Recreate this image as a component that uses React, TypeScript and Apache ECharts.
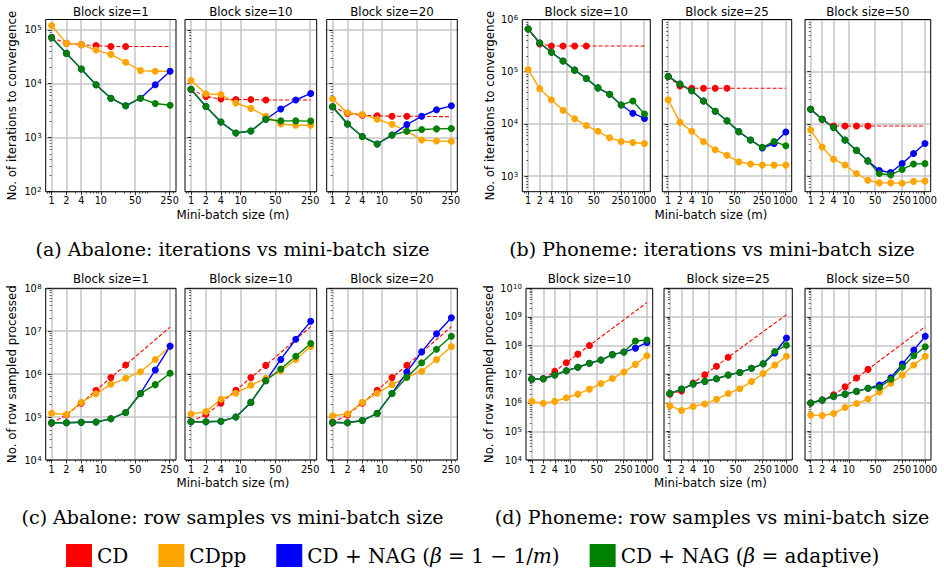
import React, { useEffect, useRef } from "react";
import * as echarts from "echarts";

// ---------- data ----------
const mAbalone = [1, 2, 4, 8, 16, 32, 64, 128, 256];
const mPhoneme = [1, 2, 4, 8, 16, 32, 64, 128, 256, 512, 1024];
const xTickAbalone = [1, 2, 4, 10, 50, 250];
const xTickPhoneme = [1, 2, 4, 10, 50, 250, 1000];
const yTickAbIter = [2, 3, 4, 5];
const yTickPhIter = [3, 4, 5, 6];
const yTickAbRows = [4, 5, 6, 7, 8];
const yTickPhRows = [4, 5, 6, 7, 8, 9, 10];
const abaloneBlocks = [1, 10, 20];
const phonemeBlocks = [10, 25, 50];

const SERIES_NAMES = ["CD", "CDpp", "CD + NAG (β = 1 − 1/m)", "CD + NAG (β = adaptive)"];
const SERIES_COLORS = ["#ff0000", "#ffa500", "#0000ff", "#008000"];
const captions = [
  "(a) Abalone: iterations vs mini-batch size",
  "(b) Phoneme: iterations vs mini-batch size",
  "(c) Abalone: row samples vs mini-batch size",
  "(d) Phoneme: row samples vs mini-batch size",
];
const yLabelIter = "No. of iterations to convergence";
const yLabelRows = "No. of row sampled processed";
const xLabel = "Mini-batch size (m)";

// Abalone, iterations to convergence
const abIterCd1 = [7.2e4, 5.6e4, 5.3e4, 5.1e4, 4.9e4, 4.9e4];
const abIterCdEnd1 = 4.9e4;
const abIterPp1 = [1.2e5, 5.6e4, 5.3e4, 4.2e4, 3.5e4, 2.5e4, 1.75e4, 1.7e4, 1.7e4];
const abIterNag1 = [7.2e4, 3.65e4, 1.87e4, 9.6e3, 5.4e3, 3.9e3, 5.4e3, 9.6e3, 1.7e4];
const abIterAda1 = [7.2e4, 3.65e4, 1.87e4, 9.6e3, 5.4e3, 3.9e3, 5.4e3, 4.3e3, 4.0e3];

const abIterCd10 = [7.9e3, 5.8e3, 5.2e3, 5.1e3, 5.1e3, 5.0e3];
const abIterCdEnd10 = 5.0e3;
const abIterPp10 = [1.15e4, 6.5e3, 6.3e3, 4.4e3, 3.5e3, 2.5e3, 1.8e3, 1.7e3, 1.7e3];
const abIterNag10 = [7.9e3, 3.8e3, 1.95e3, 1.22e3, 1.33e3, 2.2e3, 3.4e3, 5.0e3, 6.6e3];
const abIterAda10 = [7.9e3, 3.8e3, 1.95e3, 1.22e3, 1.33e3, 2.2e3, 2.05e3, 2.05e3, 2.03e3];

const abIterCd20 = [3.75e3, 2.8e3, 2.6e3, 2.55e3, 2.5e3, 2.5e3];
const abIterCdEnd20 = 2.45e3;
const abIterPp20 = [5.2e3, 2.9e3, 2.7e3, 2.2e3, 1.77e3, 1.32e3, 910, 870, 860];
const abIterNag20 = [3.75e3, 1.8e3, 1.05e3, 765, 1.12e3, 1.75e3, 2.5e3, 3.3e3, 3.9e3];
const abIterAda20 = [3.75e3, 1.8e3, 1.05e3, 765, 1.12e3, 1.32e3, 1.42e3, 1.46e3, 1.48e3];

// Phoneme, iterations to convergence
const phIterCd10 = [6.6e5, 3.4e5, 3.1e5, 3.1e5, 3.1e5, 3.1e5];
const phIterCdEnd10 = 3.1e5;
const phIterPp10 = [1.1e5, 4.7e4, 2.9e4, 1.83e4, 1.25e4, 9.3e3, 7.2e3, 5.4e3, 4.6e3, 4.4e3, 4.2e3];
const phIterNag10 = [6.6e5, 3.55e5, 2.35e5, 1.6e5, 1.07e5, 7.4e4, 4.9e4, 3.7e4, 2.3e4, 1.6e4, 1.27e4];
const phIterAda10 = [6.6e5, 3.55e5, 2.35e5, 1.6e5, 1.07e5, 7.4e4, 4.9e4, 3.7e4, 2.3e4, 2.75e4, 1.55e4];

const phIterCd25 = [8.1e4, 5.3e4, 4.8e4, 4.8e4, 4.8e4, 4.8e4];
const phIterCdEnd25 = 4.8e4;
const phIterPp25 = [2.9e4, 1.07e4, 7.2e3, 4.6e3, 3.2e3, 2.5e3, 1.87e3, 1.7e3, 1.62e3, 1.62e3, 1.62e3];
const phIterNag25 = [8.1e4, 5.8e4, 4.3e4, 2.75e4, 1.75e4, 1.15e4, 7.1e3, 4.9e3, 3.45e3, 4.2e3, 7.0e3];
const phIterAda25 = [8.1e4, 5.8e4, 4.3e4, 2.75e4, 1.75e4, 1.15e4, 7.1e3, 4.9e3, 3.55e3, 4.6e3, 3.8e3];

const phIterCd50 = [1.9e4, 1.23e4, 9.1e3, 9.1e3, 9.1e3, 9.1e3];
const phIterCdEnd50 = 9.1e3;
const phIterPp50 = [7.6e3, 3.6e3, 2.1e3, 1.63e3, 1.12e3, 830, 740, 740, 725, 790, 800];
const phIterNag50 = [1.9e4, 1.23e4, 8.5e3, 4.9e3, 3.1e3, 1.95e3, 1.28e3, 1.17e3, 1.73e3, 2.7e3, 4.2e3];
const phIterAda50 = [1.9e4, 1.23e4, 8.5e3, 4.9e3, 3.1e3, 1.95e3, 1.12e3, 1.05e3, 1.34e3, 1.7e3, 1.73e3];

// Abalone, row samples processed
const abRowsCd1 = [7.3e4, 1.12e5, 2.1e5, 4.2e5, 8.3e5, 1.63e6];
const abRowsCdEnd1 = 1.25e7;
const abRowsPp1 = [1.23e5, 1.15e5, 2.2e5, 3.5e5, 5.8e5, 8.0e5, 1.14e6, 2.2e6, 4.4e6];
const abRowsNag1 = [7.4e4, 7.4e4, 7.6e4, 7.7e4, 9.1e4, 1.28e5, 3.55e5, 1.25e6, 4.5e6];
const abRowsAda1 = [7.4e4, 7.4e4, 7.6e4, 7.7e4, 9.1e4, 1.28e5, 3.55e5, 5.7e5, 1.05e6];

const abRowsCd10 = [7.8e4, 1.16e5, 2.1e5, 4.2e5, 8.3e5, 1.6e6];
const abRowsCdEnd10 = 1.28e7;
const abRowsPp10 = [1.18e5, 1.34e5, 2.6e5, 3.6e5, 5.5e5, 8.0e5, 1.2e6, 2.2e6, 4.4e6];
const abRowsNag10 = [7.8e4, 7.8e4, 8.0e4, 1.0e5, 2.2e5, 7.0e5, 2.2e6, 6.5e6, 1.7e7];
const abRowsAda10 = [7.8e4, 7.8e4, 8.0e4, 1.0e5, 2.2e5, 7.0e5, 1.32e6, 2.6e6, 5.2e6];

const abRowsCd20 = [7.5e4, 1.12e5, 2.1e5, 4.2e5, 8.3e5, 1.6e6];
const abRowsCdEnd20 = 1.28e7;
const abRowsPp20 = [1.07e5, 1.18e5, 2.2e5, 3.6e5, 5.7e5, 8.5e5, 1.17e6, 2.2e6, 4.4e6];
const abRowsNag20 = [7.5e4, 7.4e4, 8.3e4, 1.22e5, 3.55e5, 1.12e6, 3.3e6, 8.7e6, 2.05e7];
const abRowsAda20 = [7.5e4, 7.4e4, 8.3e4, 1.22e5, 3.55e5, 8.5e5, 1.85e6, 3.8e6, 7.6e6];

// Phoneme, row samples processed
const phRowsCd10 = [6.6e6, 6.9e6, 1.25e7, 2.5e7, 5.0e7, 1.0e8];
const phRowsCdEnd10 = 3.16e9;
const phRowsPp10 = [1.12e6, 9.6e5, 1.12e6, 1.5e6, 2.0e6, 3.0e6, 4.7e6, 7.0e6, 1.18e7, 2.2e7, 4.4e7];
const phRowsNag10 = [6.7e6, 6.9e6, 9.3e6, 1.32e7, 1.73e7, 2.4e7, 3.1e7, 4.8e7, 5.9e7, 8.1e7, 1.28e8];
const phRowsAda10 = [6.7e6, 6.9e6, 9.3e6, 1.32e7, 1.73e7, 2.4e7, 3.1e7, 4.8e7, 5.9e7, 1.44e8, 1.56e8];

const phRowsCd25 = [2.0e6, 2.6e6, 4.9e6, 9.5e6, 1.9e7, 3.9e7];
const phRowsCdEnd25 = 1.2e9;
const phRowsPp25 = [7.8e5, 5.4e5, 7.4e5, 9.1e5, 1.32e6, 2.1e6, 3.1e6, 5.5e6, 1.05e7, 2.1e7, 4.2e7];
const phRowsNag25 = [2.1e6, 3.0e6, 4.5e6, 5.6e6, 6.9e6, 9.3e6, 1.15e7, 1.6e7, 2.3e7, 5.5e7, 1.83e8];
const phRowsAda25 = [2.1e6, 3.0e6, 4.5e6, 5.6e6, 6.9e6, 9.3e6, 1.15e7, 1.6e7, 2.3e7, 6.2e7, 1.02e8];

const phRowsCd50 = [9.8e5, 1.25e6, 1.9e6, 3.6e6, 7.3e6, 1.47e7];
const phRowsCdEnd50 = 4.6e8;
const phRowsPp50 = [3.7e5, 3.6e5, 4.2e5, 6.8e5, 9.4e5, 1.35e6, 2.4e6, 4.8e6, 9.3e6, 2.1e7, 4.2e7];
const phRowsNag50 = [9.8e5, 1.25e6, 1.67e6, 2.0e6, 2.5e6, 3.2e6, 4.2e6, 7.5e6, 2.25e7, 6.9e7, 2.1e8];
const phRowsAda50 = [9.8e5, 1.25e6, 1.67e6, 2.0e6, 2.5e6, 3.2e6, 3.5e6, 6.6e6, 1.78e7, 4.4e7, 9.1e7];

// ---------- panel wiring ----------
type PanelData = {
  m: number[];
  xTicks: number[];
  yTicks: number[];
  cd: number[];
  cdEnd: number;
  cdpp: number[];
  nag: number[];
  ada: number[];
  block: number;
};

const panelData: PanelData[][] = [
  [
    { m: mAbalone, xTicks: xTickAbalone, yTicks: yTickAbIter, cd: abIterCd1, cdEnd: abIterCdEnd1, cdpp: abIterPp1, nag: abIterNag1, ada: abIterAda1, block: abaloneBlocks[0] },
    { m: mAbalone, xTicks: xTickAbalone, yTicks: yTickAbIter, cd: abIterCd10, cdEnd: abIterCdEnd10, cdpp: abIterPp10, nag: abIterNag10, ada: abIterAda10, block: abaloneBlocks[1] },
    { m: mAbalone, xTicks: xTickAbalone, yTicks: yTickAbIter, cd: abIterCd20, cdEnd: abIterCdEnd20, cdpp: abIterPp20, nag: abIterNag20, ada: abIterAda20, block: abaloneBlocks[2] },
    { m: mPhoneme, xTicks: xTickPhoneme, yTicks: yTickPhIter, cd: phIterCd10, cdEnd: phIterCdEnd10, cdpp: phIterPp10, nag: phIterNag10, ada: phIterAda10, block: phonemeBlocks[0] },
    { m: mPhoneme, xTicks: xTickPhoneme, yTicks: yTickPhIter, cd: phIterCd25, cdEnd: phIterCdEnd25, cdpp: phIterPp25, nag: phIterNag25, ada: phIterAda25, block: phonemeBlocks[1] },
    { m: mPhoneme, xTicks: xTickPhoneme, yTicks: yTickPhIter, cd: phIterCd50, cdEnd: phIterCdEnd50, cdpp: phIterPp50, nag: phIterNag50, ada: phIterAda50, block: phonemeBlocks[2] },
  ],
  [
    { m: mAbalone, xTicks: xTickAbalone, yTicks: yTickAbRows, cd: abRowsCd1, cdEnd: abRowsCdEnd1, cdpp: abRowsPp1, nag: abRowsNag1, ada: abRowsAda1, block: abaloneBlocks[0] },
    { m: mAbalone, xTicks: xTickAbalone, yTicks: yTickAbRows, cd: abRowsCd10, cdEnd: abRowsCdEnd10, cdpp: abRowsPp10, nag: abRowsNag10, ada: abRowsAda10, block: abaloneBlocks[1] },
    { m: mAbalone, xTicks: xTickAbalone, yTicks: yTickAbRows, cd: abRowsCd20, cdEnd: abRowsCdEnd20, cdpp: abRowsPp20, nag: abRowsNag20, ada: abRowsAda20, block: abaloneBlocks[2] },
    { m: mPhoneme, xTicks: xTickPhoneme, yTicks: yTickPhRows, cd: phRowsCd10, cdEnd: phRowsCdEnd10, cdpp: phRowsPp10, nag: phRowsNag10, ada: phRowsAda10, block: phonemeBlocks[0] },
    { m: mPhoneme, xTicks: xTickPhoneme, yTicks: yTickPhRows, cd: phRowsCd25, cdEnd: phRowsCdEnd25, cdpp: phRowsPp25, nag: phRowsNag25, ada: phRowsAda25, block: phonemeBlocks[1] },
    { m: mPhoneme, xTicks: xTickPhoneme, yTicks: yTickPhRows, cd: phRowsCd50, cdEnd: phRowsCdEnd50, cdpp: phRowsPp50, nag: phRowsNag50, ada: phRowsAda50, block: phonemeBlocks[2] },
  ],
];

// ---------- layout (pixels) ----------
const ROW_TOP = [19.5, 288.3];
const ROW_HEIGHT = [172.2, 171.7];
const BOXES = [
  [[45.7, 130.3], [185, 131.7], [326.7, 130.6], [522.3, 128], [662.3, 129.4], [805, 125.7]],
  [[45.7, 130.3], [185, 131.7], [326.7, 130.6], [526, 126.7], [664, 128.3], [805, 126]],
];
// y ranges (log10 units) per row, per dataset group (abalone, phoneme)
const Y_RANGE = [
  [[2, 5.19], [2.7, 6]],
  [[4, 8], [4, 10]],
];
const TITLE_Y = [11.7, 279.3];
const YLABEL_POS = [[[11.8, 105.6], [490, 105.6]], [[11.8, 374.2], [488.5, 374.2]]];
const XLABEL_POS = [[[233, 215], [711, 215]], [[233, 483], [710.5, 483]]];
const CAPTION_POS = [[232.5, 249], [712, 249], [232.5, 517], [712, 517]];

const log = Math.log10;

function minorLogs(lo: number, hi: number, exclude: number[]) {
  const out: number[] = [];
  for (let e = -1; e <= 10; e++) {
    for (let k = 2; k <= 9; k++) {
      const v = k * Math.pow(10, e);
      const l = log(v);
      if (l > lo + 1e-6 && l < hi - 1e-6 && !exclude.some((x) => Math.abs(x - v) / v < 1e-9)) out.push(l);
    }
  }
  return out;
}

function buildOption() {
  const grid: any[] = [];
  const xAxis: any[] = [];
  const yAxis: any[] = [];
  const series: any[] = [];
  const graphic: any[] = [];
  const FONT = "DejaVu Sans";
  const tickFont = 9.7;
  const labelFont = 11.8;

  for (let r = 0; r < 2; r++) {
    for (let c = 0; c < 6; c++) {
      const p = panelData[r][c];
      const g = grid.length;
      const [left, width] = BOXES[r][c];
      const top = ROW_TOP[r];
      const height = ROW_HEIGHT[r];
      grid.push({
        left, top, width, height,
        show: true, borderColor: "#000", borderWidth: 1, backgroundColor: "transparent",
        containLabel: false, outerBoundsMode: "none", z: 1,
      });
      const maxM = p.m[p.m.length - 1];
      const span = log(maxM);
      const xmin = -0.05 * span;
      const xmax = span * 1.05;
      const [ymin, ymax] = Y_RANGE[r][c < 3 ? 0 : 1];
      const xMajor = p.xTicks.map(log);
      const xMinor = minorLogs(xmin, xmax, p.xTicks);
      const yMinor = minorLogs(ymin, ymax, []).filter((v) => Math.abs(v - Math.round(v)) > 1e-6);
      const showYLabels = c === 0 || c === 3;

      xAxis.push({
        type: "value", gridIndex: g, position: "bottom", min: xmin, max: xmax,
        axisLine: { show: false },
        axisTick: { show: true, length: 3.5, customValues: xMajor, lineStyle: { color: "#000", width: 0.8 } },
        axisLabel: {
          show: true, customValues: xMajor, margin: 4,
          formatter: (v: number) => String(Math.round(Math.pow(10, v))),
          fontSize: tickFont, fontFamily: FONT, color: "#000",
        },
        splitLine: { show: true, lineStyle: { color: "#c6c6c6", width: 1.5 } },
      });
      xAxis.push({
        type: "value", gridIndex: g, position: "bottom", min: xmin, max: xmax,
        axisLine: { show: false },
        axisTick: { show: true, length: 2, customValues: xMinor, lineStyle: { color: "#000", width: 0.6 } },
        axisLabel: { show: false },
        splitLine: { show: false },
      });
      yAxis.push({
        type: "value", gridIndex: g, position: "left", min: ymin, max: ymax,
        axisLine: { show: false },
        axisTick: { show: true, length: 3.5, customValues: p.yTicks, lineStyle: { color: "#000", width: 0.8 } },
        axisLabel: {
          show: showYLabels, customValues: p.yTicks, margin: 4,
          formatter: (v: number) => "10{s|" + Math.round(v) + "}",
          fontSize: tickFont, fontFamily: FONT, color: "#000",
          rich: { s: { fontSize: 7, fontFamily: FONT, color: "#000", verticalAlign: "top", padding: [0, 0, 0, 0.5] } },
        },
        splitLine: { show: true, lineStyle: { color: "#c6c6c6", width: 1.5 } },
      });
      yAxis.push({
        type: "value", gridIndex: g, position: "left", min: ymin, max: ymax,
        axisLine: { show: false },
        axisTick: { show: true, length: 2, customValues: yMinor, lineStyle: { color: "#000", width: 0.6 } },
        axisLabel: { show: false },
        splitLine: { show: false },
      });

      const xi = 2 * g;
      const yi = 2 * g;
      const base = {
        type: "line", xAxisIndex: xi, yAxisIndex: yi, symbol: "circle", symbolSize: 7,
        silent: true, emphasis: { disabled: true }, z: 2,
      };
      const cdData: any[] = p.cd.map((v, i) => [log(p.m[i]), log(v)]);
      cdData.push({ value: [log(maxM), log(p.cdEnd)], symbol: "none" });
      const lists = [cdData, p.cdpp, p.nag, p.ada];
      lists.forEach((vals: any, s) => {
        const data = s === 0 ? vals : (vals as number[]).map((v, i) => [log(p.m[i]), log(v)]);
        series.push({
          ...base,
          name: SERIES_NAMES[s],
          data,
          itemStyle: { color: SERIES_COLORS[s], borderWidth: 0 },
          lineStyle: { color: SERIES_COLORS[s], width: s === 0 ? 1.1 : 1.4, type: s === 0 ? [4, 2] : "solid" },
        });
      });

      graphic.push({
        type: "text", x: left + width / 2, y: TITLE_Y[r], silent: true,
        style: { text: "Block size=" + p.block, fontSize: labelFont, fontFamily: FONT, fill: "#000", align: "center", verticalAlign: "middle" },
      });
    }
    for (let h = 0; h < 2; h++) {
      graphic.push({
        type: "text", x: YLABEL_POS[r][h][0], y: YLABEL_POS[r][h][1], rotation: Math.PI / 2, silent: true,
        style: { text: r === 0 ? yLabelIter : yLabelRows, fontSize: labelFont, fontFamily: FONT, fill: "#000", align: "center", verticalAlign: "middle" },
      });
      graphic.push({
        type: "text", x: XLABEL_POS[r][h][0], y: XLABEL_POS[r][h][1], silent: true,
        style: { text: xLabel, fontSize: labelFont, fontFamily: FONT, fill: "#000", align: "center", verticalAlign: "middle" },
      });
    }
  }
  captions.forEach((t, i) => {
    graphic.push({
      type: "text", x: CAPTION_POS[i][0], y: CAPTION_POS[i][1], silent: true,
      style: { text: t, fontSize: 19, fontFamily: "DejaVu Serif", fill: "#000", align: "center", verticalAlign: "middle" },
    });
  });

  return {
    animation: false,
    backgroundColor: "#fff",
    textStyle: { fontFamily: FONT },
    grid, xAxis, yAxis, series, graphic,
    legend: {
      data: SERIES_NAMES,
      left: 66, top: 544, padding: 0, itemGap: 30, itemWidth: 26, itemHeight: 23,
      icon: "rect", selectedMode: false,
      itemStyle: { borderWidth: 0 },
      textStyle: {
        fontFamily: "DejaVu Serif", fontSize: 20, color: "#000",
        rich: { i: { fontFamily: "DejaVu Serif", fontSize: 20, fontStyle: "italic", color: "#000" } },
      },
      formatter: (name: string) => {
        if (name === SERIES_NAMES[2]) return "CD + NAG ({i|β} = 1 − 1/{i|m})";
        if (name === SERIES_NAMES[3]) return "CD + NAG ({i|β} = adaptive)";
        return name;
      },
    },
  };
}

export default function App() {
  const ref = useRef<HTMLDivElement>(null);
  useEffect(() => {
    if (!ref.current) return;
    const chart = echarts.init(ref.current, null, { renderer: "svg" });
    chart.setOption(buildOption() as any);
    return () => chart.dispose();
  }, []);
  return (
    <div
      ref={ref}
      style={{ position: "fixed", left: 0, top: 0, width: 944, height: 579, background: "#fff" }}
    />
  );
}
